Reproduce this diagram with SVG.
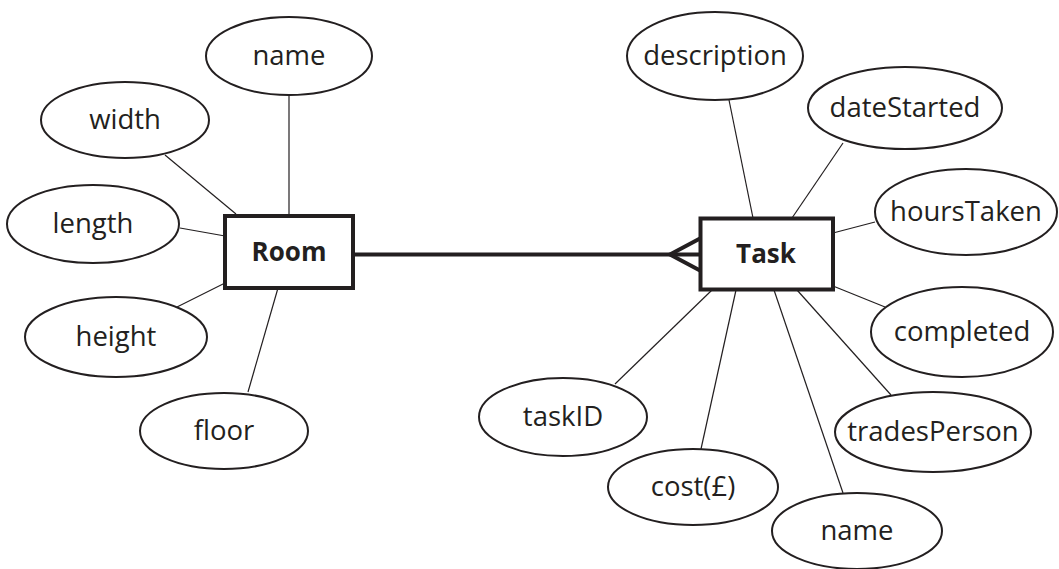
<svg xmlns="http://www.w3.org/2000/svg" width="1059" height="569" viewBox="0 0 1059 569">
<style>
.attr ellipse{fill:#fff;stroke:#231f20;stroke-width:2}
.attr text{font-family:"Open Sans","Noto Sans",sans-serif;font-size:27.5px;fill:#231f20;text-anchor:middle}
.ent rect{fill:#fff;stroke:#231f20;stroke-width:4}
.ent text{font-family:"Open Sans","Noto Sans",sans-serif;font-size:26px;font-weight:bold;fill:#231f20;text-anchor:middle}
.link{stroke:#231f20;stroke-width:1.2;fill:none}
.rel{stroke:#231f20;stroke-width:4;fill:none}
</style>
<rect width="1059" height="569" fill="#fff"/>
<g id="connectors">
<line class="link" x1="289" y1="95" x2="289" y2="216"/>
<line class="link" x1="165" y1="155" x2="236" y2="214"/>
<line class="link" x1="180" y1="228" x2="225" y2="236"/>
<line class="link" x1="177" y1="307" x2="225" y2="283"/>
<line class="link" x1="248" y1="392" x2="278" y2="288"/>
<line class="link" x1="729" y1="100" x2="753" y2="218"/>
<line class="link" x1="843" y1="143" x2="792" y2="218"/>
<line class="link" x1="833" y1="233" x2="875" y2="222"/>
<line class="link" x1="833" y1="286" x2="885" y2="307"/>
<line class="link" x1="797" y1="290" x2="891" y2="395"/>
<line class="link" x1="774" y1="290" x2="843" y2="493"/>
<line class="link" x1="736" y1="290" x2="701" y2="449"/>
<line class="link" x1="712" y1="290" x2="615" y2="384"/>
<line class="rel" x1="353" y1="254.5" x2="700" y2="254.5"/>
<polyline class="rel" points="700,238.5 670,254.5 700,270.5"/>
</g>
<g id="room" class="ent"><rect x="225" y="216" width="128" height="72"/><text x="289" y="261">Room</text></g>
<g id="task" class="ent"><rect x="700.5" y="218.5" width="132.5" height="71"/><text x="766" y="263">Task</text></g>
<g id="room-name" class="attr"><ellipse cx="289" cy="56" rx="83" ry="39"/><text x="289" y="65">name</text></g>
<g id="room-width" class="attr"><ellipse cx="125" cy="120" rx="84" ry="38"/><text x="125" y="129">width</text></g>
<g id="room-length" class="attr"><ellipse cx="93" cy="224" rx="86" ry="39"/><text x="93" y="233">length</text></g>
<g id="room-height" class="attr"><ellipse cx="116" cy="337" rx="91" ry="40"/><text x="116" y="346">height</text></g>
<g id="room-floor" class="attr"><ellipse cx="224" cy="431" rx="84" ry="38"/><text x="224" y="440">floor</text></g>
<g id="task-description" class="attr"><ellipse cx="715" cy="56" rx="88" ry="44"/><text x="715" y="65">description</text></g>
<g id="task-dateStarted" class="attr"><ellipse cx="905" cy="108" rx="97" ry="41"/><text x="905" y="117">dateStarted</text></g>
<g id="task-hoursTaken" class="attr"><ellipse cx="966" cy="212" rx="91" ry="43"/><text x="966" y="221">hoursTaken</text></g>
<g id="task-completed" class="attr"><ellipse cx="962" cy="332" rx="91" ry="45"/><text x="962" y="341">completed</text></g>
<g id="task-tradesPerson" class="attr"><ellipse cx="933" cy="432" rx="98" ry="40"/><text x="933" y="441">tradesPerson</text></g>
<g id="task-taskID" class="attr"><ellipse cx="563" cy="417" rx="84" ry="39"/><text x="563" y="426">taskID</text></g>
<g id="task-cost" class="attr"><ellipse cx="693" cy="487" rx="85" ry="38"/><text x="693" y="496">cost(£)</text></g>
<g id="task-name" class="attr"><ellipse cx="857" cy="531" rx="85" ry="38"/><text x="857" y="540">name</text></g>
</svg>
